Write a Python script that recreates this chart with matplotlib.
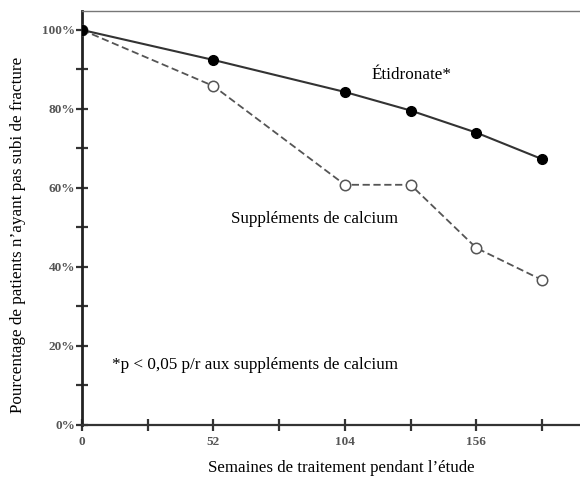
import matplotlib
matplotlib.use('Agg')
import matplotlib.pyplot as plt

weeks = [0, 52, 104, 130, 156, 182]
etidronate = [100, 92.4, 84.3, 79.6, 74.0, 67.3]
calcium = [100, 85.8, 60.8, 60.8, 44.8, 36.7]

y_ticks = [0, 20, 40, 60, 80, 100]
y_labels = ['0%', '20%', '40%', '60%', '80%', '100%']
x_ticks = [0, 52, 104, 156]
x_labels = ['0', '52', '104', '156']

plt.rcParams['font.family'] = ['Liberation Serif', 'DejaVu Serif']

fig = plt.figure(figsize=(5.8, 4.78), dpi=100)
ax = fig.add_axes([0.1414, 0.111, 0.8586, 0.866])

ax.plot(weeks, calcium, color='#555555', lw=1.3, ls=(0, (4, 2)), marker='o', ms=7.5,
        mfc='white', mec='#555555', mew=1.1, zorder=3)
ax.plot(weeks, etidronate, color='#333333', lw=1.5, marker='o', ms=7,
        mfc='black', mec='black', zorder=4)

ax.set_xlim(0, 197)
ax.set_ylim(0, 104.8)

ax.set_yticks(y_ticks)
ax.set_yticklabels(y_labels, fontsize=9.5, fontweight='bold', color='#555555')
ax.set_yticks([10, 30, 50, 70, 90], minor=True)
ax.set_xticks(x_ticks)
ax.set_xticklabels(x_labels, fontsize=9.5, fontweight='bold', color='#555555')
ax.set_xticks([26, 78, 130, 182], minor=True)
ax.tick_params(which='both', direction='inout', length=8, width=1.6, color='#333333')
ax.tick_params(axis='x', pad=4)
ax.tick_params(axis='y', pad=1)

ax.spines['right'].set_visible(False)
ax.spines['left'].set_linewidth(2)
ax.spines['bottom'].set_linewidth(1.6)
ax.spines['left'].set_color('#222222')
ax.spines['bottom'].set_color('#333333')
ax.spines['top'].set_linewidth(1.0)
ax.spines['top'].set_color('#777777')

ax.text(130.2, 88.6, 'Étidronate*', fontsize=12.3, ha='center', va='center')
ax.text(92, 52.2, 'Suppléments de calcium', fontsize=12.3, ha='center', va='center')
ax.text(11.9, 15.2, '*p < 0,05 p/r aux suppléments de calcium', fontsize=12.3, ha='left', va='center')

fig.text(341.5 / 580, 1 - 468 / 478, 'Semaines de traitement pendant l’étude',
         fontsize=12.2, ha='center', va='center')
fig.text(18 / 580, 1 - 234.5 / 478, 'Pourcentage de patients n’ayant pas subi de fracture',
         fontsize=12.3, ha='center', va='center', rotation=90)

fig.savefig('out.png', dpi=100)
